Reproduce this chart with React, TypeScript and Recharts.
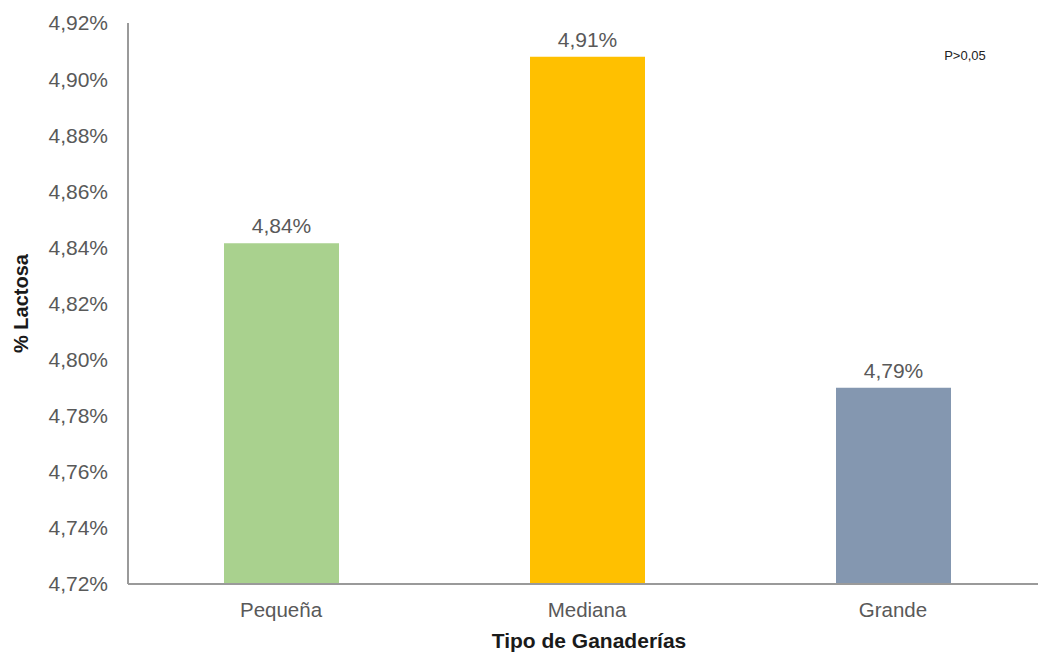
import { BarChart, Bar, XAxis, YAxis, Cell, LabelList, Label } from 'recharts';

const categories = ['Pequeña', 'Mediana', 'Grande'];
const lactosa = [4.8415, 4.908, 4.79];
const barColors = ['#A9D18E', '#FFC000', '#8497B0'];
const yTicks = [4.72, 4.74, 4.76, 4.78, 4.8, 4.82, 4.84, 4.86, 4.88, 4.9, 4.92];

const data = categories.map((name, i) => ({ name, value: lactosa[i] }));

const pct = (v: number) => v.toFixed(2).replace('.', ',') + '%';

const font = 'Liberation Sans, Arial, sans-serif';

export default function App() {
  return (
    <div
      style={{
        position: 'fixed',
        left: 0,
        top: 0,
        width: 1038,
        height: 653,
        overflow: 'hidden',
        background: '#fff',
      }}
    >
      <BarChart
        width={1048}
        height={653}
        data={data}
        margin={{ top: 23, right: 2, bottom: 0, left: 0 }}
        style={{ fontFamily: font }}
      >
        <XAxis
          dataKey="name"
          height={69}
          tickLine={false}
          tickSize={6}
          tickMargin={12}
          stroke="#9a9a9a"
          strokeWidth={2}
          tick={{ fill: '#595959', fontSize: 20.5 }}
        >
          <Label
            content={({ viewBox }: any) => (
              <text
                x={viewBox.x + viewBox.width / 2 + 2}
                y={viewBox.y + 64}
                textAnchor="middle"
                fontSize={21}
                fontWeight="bold"
                fill="#1a1a1a"
              >
                Tipo de Ganaderías
              </text>
            )}
          />
        </XAxis>
        <YAxis
          width={128}
          domain={[4.72, 4.92]}
          ticks={yTicks}
          interval={0}
          allowDataOverflow
          tickFormatter={pct}
          tickLine={false}
          tickSize={6}
          tickMargin={14}
          stroke="#9a9a9a"
          strokeWidth={2}
          tick={{ fill: '#595959', fontSize: 21 }}
        >
          <Label
            content={({ viewBox }: any) => (
              <text
                x={0}
                y={0}
                transform={`translate(28, ${viewBox.y + viewBox.height / 2}) rotate(-90)`}
                textAnchor="middle"
                fontSize={20}
                fontWeight="bold"
                fill="#1a1a1a"
              >
                % Lactosa
              </text>
            )}
          />
          <Label
            content={() => (
              <text x={965} y={60} textAnchor="middle" fontSize={13} fill="#222">
                P&gt;0,05
              </text>
            )}
          />
        </YAxis>
        <Bar dataKey="value" barSize={115} isAnimationActive={false}>
          {data.map((d, i) => (
            <Cell key={d.name} fill={barColors[i]} />
          ))}
          <LabelList
            dataKey="value"
            position="top"
            offset={10}
            formatter={(v: any) => pct(Number(v))}
            fill="#595959"
            fontSize={21}
          />
        </Bar>
      </BarChart>
    </div>
  );
}
